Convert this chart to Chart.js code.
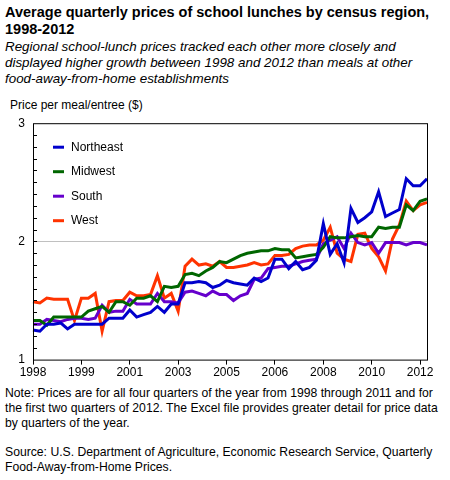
<!DOCTYPE html>
<html><head><meta charset="utf-8">
<script src="https://cdn.jsdelivr.net/npm/chart.js@4"></script>
<style>
body{margin:0;width:450px;height:480px;background:#fff;font-family:"Liberation Sans",Arial,sans-serif;color:#000;position:relative;overflow:hidden}
#t{position:absolute;left:5px;top:4px;font-weight:bold;font-size:14.5px;line-height:17px;width:440px}
#s{position:absolute;left:5px;top:39px;font-style:italic;font-size:13.4px;line-height:16px;width:440px}
#yl{position:absolute;left:10px;top:98px;font-size:12px}
#n{position:absolute;left:5px;top:386px;font-size:12.2px;line-height:15px;width:440px}
#src{position:absolute;left:5px;top:445px;font-size:12.2px;line-height:15px;width:440px}
#c{position:absolute;left:0;top:108px}
</style></head><body>
<div id="t">Average quarterly prices of school lunches by census region, 1998-2012</div>
<div id="s">Regional school-lunch prices tracked each other more closely and displayed higher growth between 1998 and 2012 than meals at other food-away-from-home establishments</div>
<div id="yl">Price per meal/entree ($)</div>
<canvas id="c" width="440" height="273"></canvas>
<div id="n">Note: Prices are for all four quarters of the year from 1998 through 2011 and for the first two quarters of 2012. The Excel file provides greater detail for price data by quarters of the year.</div>
<div id="src">Source: U.S. Department of Agriculture, Economic Research Service, Quarterly Food-Away-from-Home Prices.</div>
<script>
const categories=[];
for(let y=1998;y<=2012;y++)for(let q=1;q<=4;q++){if(y===2012&&q>2)break;categories.push(y+" Q"+q);}
const seriesNames=["Northeast","Midwest","South","West"];
const northeast=[1.25,1.24,1.30,1.30,1.31,1.26,1.30,1.30,1.30,1.30,1.30,1.35,1.35,1.35,1.42,1.36,1.38,1.40,1.45,1.40,1.47,1.47,1.65,1.65,1.66,1.65,1.61,1.63,1.67,1.65,1.64,1.63,1.69,1.66,1.69,1.85,1.85,1.77,1.83,1.76,1.78,1.84,2.15,1.89,1.98,1.82,2.28,2.16,2.20,2.25,2.42,2.21,2.24,2.27,2.53,2.47,2.47,2.53];
const midwest=[1.33,1.33,1.29,1.36,1.36,1.36,1.36,1.36,1.41,1.43,1.45,1.40,1.49,1.49,1.46,1.52,1.52,1.54,1.49,1.62,1.61,1.62,1.72,1.73,1.71,1.75,1.78,1.83,1.82,1.85,1.88,1.90,1.91,1.92,1.92,1.94,1.93,1.93,1.86,1.87,1.88,1.89,1.95,2.04,2.03,2.03,2.04,2.05,2.04,2.04,2.12,2.11,2.12,2.12,2.31,2.26,2.34,2.36];
const south=[1.30,1.30,1.34,1.33,1.32,1.34,1.35,1.35,1.34,1.35,1.46,1.40,1.41,1.41,1.51,1.47,1.47,1.47,1.56,1.49,1.49,1.48,1.57,1.58,1.56,1.54,1.58,1.55,1.55,1.50,1.54,1.56,1.68,1.69,1.77,1.78,1.79,1.79,1.81,1.83,1.84,1.85,1.98,2.01,2.04,1.94,2.07,1.99,1.97,1.99,1.90,1.99,1.99,1.99,1.97,1.99,1.99,1.97];
const west=[1.49,1.48,1.52,1.51,1.51,1.51,1.33,1.52,1.52,1.56,1.24,1.49,1.50,1.50,1.57,1.54,1.54,1.55,1.71,1.52,1.56,1.41,1.79,1.85,1.80,1.81,1.79,1.83,1.78,1.78,1.79,1.80,1.82,1.80,1.81,1.88,1.88,1.89,1.94,1.96,1.97,1.97,2.01,2.12,1.90,1.85,1.83,2.06,2.07,1.94,1.87,1.75,2.02,2.14,2.34,2.26,2.31,2.33];
const yTicks=[1,2,3];
const colors=["#0000cc","#006600","#6600cc","#ff3300"];
const vals=[northeast,midwest,south,west];
const frame={id:"frame",afterDraw(ch){const c=ch.ctx,a=ch.chartArea,y=ch.scales.y;c.save();c.strokeStyle="#000";c.lineWidth=1;
c.strokeRect(a.left+0.5,a.top+0.5,a.right-a.left,a.bottom-a.top);
for(let v=1.1;v<3;v+=0.1){const p=Math.round(y.getPixelForValue(v))+0.5;c.beginPath();c.moveTo(a.left,p);c.lineTo(a.left+4,p);c.stroke();}
c.font="12px 'Liberation Sans',Arial";c.textBaseline="middle";
ch.data.datasets.forEach((d,i)=>{const yy=a.top+24+i*24.5;c.strokeStyle=d.borderColor;c.lineWidth=3;c.beginPath();c.moveTo(a.left+20,yy);c.lineTo(a.left+31,yy);c.stroke();c.fillStyle="#000";c.fillText(d.label,a.left+38,yy);});
c.restore();}};
new Chart(document.getElementById("c"),{type:"line",
data:{labels:categories,datasets:seriesNames.map((n,i)=>({label:n,data:vals[i],borderColor:colors[i],borderWidth:3,pointRadius:0,tension:0,fill:false}))},
options:{responsive:false,animation:false,layout:{padding:{top:6,right:13}},
plugins:{legend:{display:false},tooltip:{enabled:false}},
scales:{
x:{offset:false,border:{display:false},grid:{drawOnChartArea:false,tickLength:5,color:c=>c.index%7===0?"#000":"transparent"},
ticks:{autoSkip:false,maxRotation:0,color:"#000",font:{size:12,family:"'Liberation Sans',Arial"},padding:1,callback:(v,i)=>i%7===0?categories[i].slice(0,4):""}},
y:{min:1,max:3,afterFit:s=>{s.width=33;},afterBuildTicks:s=>{s.ticks=yTicks.map(v=>({value:v}));},border:{display:false},
grid:{drawTicks:false,color:c=>c.tick&&c.tick.value===2?"#c0c0c0":"transparent"},
ticks:{color:"#000",padding:8,font:{size:12,family:"'Liberation Sans',Arial"}}}}},
plugins:[frame]});
</script></body></html>
